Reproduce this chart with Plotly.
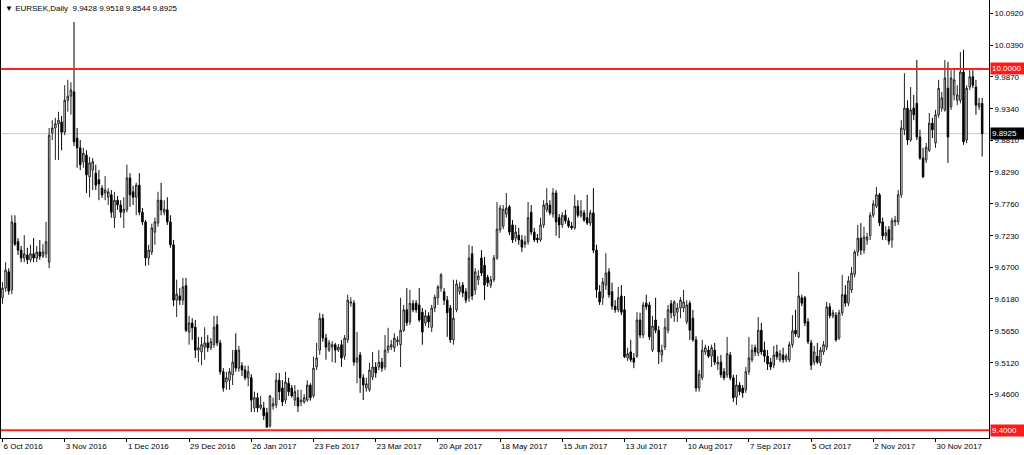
import plotly.graph_objects as go

# ---- data (EURSEK daily) ----
open_ = [
    9.620, 9.636, 9.663, 9.633, 9.744, 9.713, 9.699, 9.686, 9.691, 9.683,
    9.693, 9.686, 9.696, 9.689, 9.693, 9.679, 9.894, 9.902, 9.909, 9.912,
    9.895, 9.948, 9.955, 9.962, 9.885, 9.869, 9.846, 9.857, 9.821, 9.832,
    9.827, 9.816, 9.802, 9.794, 9.787, 9.791, 9.753, 9.782, 9.774, 9.762,
    9.766, 9.819, 9.796, 9.787, 9.807, 9.762, 9.746, 9.686, 9.696, 9.729,
    9.744, 9.782, 9.762, 9.766, 9.746, 9.708, 9.616, 9.623, 9.616, 9.640,
    9.563, 9.578, 9.571, 9.533, 9.530, 9.538, 9.545, 9.537, 9.542, 9.575,
    9.545, 9.497, 9.480, 9.483, 9.492, 9.533, 9.503, 9.507, 9.500, 9.487,
    9.487, 9.437, 9.454, 9.437, 9.437, 9.429, 9.407, 9.440, 9.442, 9.483,
    9.470, 9.450, 9.478, 9.470, 9.450, 9.454, 9.447, 9.447, 9.450, 9.475,
    9.457, 9.505, 9.533, 9.586, 9.553, 9.533, 9.538, 9.542, 9.533, 9.542,
    9.523, 9.550, 9.611, 9.611, 9.513, 9.525, 9.487, 9.470, 9.467, 9.488,
    9.505, 9.505, 9.513, 9.505, 9.533, 9.538, 9.537, 9.547, 9.542, 9.566,
    9.600, 9.580, 9.610, 9.611, 9.608, 9.596, 9.578, 9.590, 9.571, 9.603,
    9.620, 9.636, 9.630, 9.616, 9.603, 9.550, 9.600, 9.630, 9.641, 9.630,
    9.620, 9.693, 9.633, 9.650, 9.686, 9.674, 9.654, 9.641, 9.650, 9.686,
    9.733, 9.739, 9.759, 9.771, 9.741, 9.719, 9.724, 9.716, 9.709, 9.713,
    9.762, 9.729, 9.719, 9.716, 9.741, 9.766, 9.774, 9.759, 9.794, 9.753,
    9.741, 9.757, 9.748, 9.739, 9.736, 9.772, 9.756, 9.761, 9.753, 9.744,
    9.761, 9.699, 9.630, 9.620, 9.641, 9.663, 9.630, 9.606, 9.600, 9.623,
    9.600, 9.520, 9.530, 9.520, 9.523, 9.583, 9.558, 9.611, 9.608, 9.533,
    9.583, 9.566, 9.525, 9.538, 9.566, 9.610, 9.590, 9.596, 9.603, 9.603,
    9.580, 9.611, 9.586, 9.550, 9.470, 9.487, 9.530, 9.533, 9.523, 9.533,
    9.510, 9.513, 9.497, 9.492, 9.525, 9.487, 9.455, 9.475, 9.470, 9.467,
    9.497, 9.517, 9.537, 9.528, 9.566, 9.533, 9.523, 9.513, 9.508, 9.530,
    9.517, 9.525, 9.517, 9.517, 9.542, 9.566, 9.555, 9.620, 9.620, 9.580,
    9.545, 9.513, 9.523, 9.512, 9.530, 9.538, 9.605, 9.590, 9.591, 9.553,
    9.595, 9.625, 9.611, 9.633, 9.659, 9.696, 9.719, 9.699, 9.716, 9.723,
    9.757, 9.772, 9.791, 9.746, 9.723, 9.733, 9.716, 9.746, 9.746, 9.791,
    9.899, 9.935, 9.882, 9.935, 9.943, 9.887, 9.852, 9.849, 9.865, 9.910,
    9.877, 9.924, 9.935, 9.932, 9.968, 9.937, 9.957, 9.948, 9.948, 9.995,
    9.882, 9.970, 9.987, 9.970, 9.937, 9.9428,
]
high = [
    9.646, 9.679, 9.669, 9.757, 9.757, 9.719, 9.706, 9.724, 9.703, 9.708,
    9.719, 9.706, 9.716, 9.709, 9.746, 9.902, 9.915, 9.919, 9.929, 9.922,
    9.973, 9.982, 9.978, 10.078, 9.902, 9.882, 9.869, 9.865, 9.854, 9.852,
    9.841, 9.832, 9.807, 9.822, 9.802, 9.799, 9.796, 9.789, 9.782, 9.787,
    9.841, 9.827, 9.806, 9.811, 9.827, 9.769, 9.749, 9.708, 9.743, 9.753,
    9.796, 9.811, 9.782, 9.787, 9.757, 9.716, 9.650, 9.636, 9.653, 9.653,
    9.590, 9.586, 9.583, 9.555, 9.555, 9.571, 9.558, 9.553, 9.590, 9.590,
    9.550, 9.503, 9.497, 9.503, 9.533, 9.561, 9.540, 9.513, 9.507, 9.507,
    9.493, 9.464, 9.462, 9.457, 9.447, 9.437, 9.458, 9.454, 9.495, 9.495,
    9.483, 9.497, 9.487, 9.475, 9.475, 9.467, 9.467, 9.460, 9.483, 9.478,
    9.522, 9.545, 9.595, 9.593, 9.560, 9.550, 9.548, 9.545, 9.543, 9.550,
    9.558, 9.625, 9.621, 9.616, 9.563, 9.530, 9.493, 9.487, 9.512, 9.530,
    9.513, 9.533, 9.520, 9.558, 9.570, 9.550, 9.561, 9.556, 9.620, 9.608,
    9.636, 9.633, 9.616, 9.616, 9.636, 9.603, 9.600, 9.596, 9.608, 9.625,
    9.641, 9.661, 9.636, 9.623, 9.608, 9.650, 9.650, 9.646, 9.646, 9.636,
    9.708, 9.706, 9.669, 9.666, 9.699, 9.688, 9.658, 9.656, 9.691, 9.779,
    9.774, 9.774, 9.794, 9.774, 9.749, 9.741, 9.736, 9.724, 9.723, 9.779,
    9.774, 9.736, 9.726, 9.753, 9.782, 9.802, 9.782, 9.802, 9.799, 9.759,
    9.762, 9.766, 9.753, 9.746, 9.791, 9.782, 9.782, 9.766, 9.791, 9.766,
    9.802, 9.708, 9.641, 9.653, 9.694, 9.669, 9.645, 9.616, 9.638, 9.641,
    9.623, 9.537, 9.550, 9.528, 9.596, 9.595, 9.613, 9.625, 9.613, 9.590,
    9.620, 9.573, 9.542, 9.586, 9.608, 9.616, 9.616, 9.611, 9.621, 9.633,
    9.616, 9.615, 9.600, 9.556, 9.500, 9.550, 9.542, 9.540, 9.542, 9.545,
    9.523, 9.525, 9.503, 9.555, 9.530, 9.492, 9.492, 9.480, 9.475, 9.505,
    9.555, 9.542, 9.542, 9.588, 9.578, 9.547, 9.533, 9.520, 9.540, 9.542,
    9.533, 9.537, 9.527, 9.547, 9.591, 9.600, 9.663, 9.625, 9.623, 9.586,
    9.550, 9.540, 9.545, 9.538, 9.548, 9.613, 9.611, 9.600, 9.596, 9.600,
    9.658, 9.641, 9.656, 9.671, 9.699, 9.741, 9.744, 9.738, 9.728, 9.762,
    9.782, 9.804, 9.794, 9.753, 9.739, 9.739, 9.753, 9.756, 9.799, 9.915,
    9.993, 9.948, 9.970, 9.957, 10.015, 9.899, 9.869, 9.877, 9.927, 9.919,
    9.932, 9.982, 9.962, 10.015, 10.012, 9.998, 10.002, 9.973, 10.028, 10.032,
    9.973, 9.998, 9.998, 9.982, 9.952, 9.9518,
]
low = [
    9.610, 9.630, 9.625, 9.626, 9.706, 9.691, 9.679, 9.679, 9.676, 9.679,
    9.679, 9.679, 9.683, 9.686, 9.686, 9.669, 9.882, 9.849, 9.849, 9.865,
    9.890, 9.929, 9.924, 9.872, 9.836, 9.832, 9.836, 9.794, 9.787, 9.799,
    9.799, 9.782, 9.786, 9.782, 9.774, 9.753, 9.736, 9.766, 9.753, 9.736,
    9.762, 9.771, 9.774, 9.757, 9.757, 9.741, 9.673, 9.674, 9.691, 9.708,
    9.738, 9.757, 9.757, 9.741, 9.703, 9.606, 9.588, 9.608, 9.608, 9.563,
    9.542, 9.550, 9.520, 9.513, 9.508, 9.517, 9.530, 9.533, 9.537, 9.540,
    9.492, 9.464, 9.467, 9.467, 9.475, 9.497, 9.497, 9.490, 9.483, 9.473,
    9.430, 9.430, 9.430, 9.434, 9.417, 9.405, 9.404, 9.434, 9.437, 9.450,
    9.440, 9.444, 9.457, 9.454, 9.440, 9.430, 9.440, 9.444, 9.447, 9.449,
    9.454, 9.500, 9.525, 9.547, 9.517, 9.530, 9.513, 9.512, 9.530, 9.505,
    9.517, 9.545, 9.605, 9.507, 9.478, 9.462, 9.450, 9.464, 9.464, 9.483,
    9.487, 9.500, 9.497, 9.500, 9.528, 9.533, 9.530, 9.540, 9.505, 9.563,
    9.573, 9.575, 9.596, 9.595, 9.580, 9.542, 9.573, 9.570, 9.563, 9.596,
    9.608, 9.630, 9.608, 9.555, 9.545, 9.542, 9.596, 9.625, 9.621, 9.611,
    9.613, 9.616, 9.625, 9.641, 9.656, 9.616, 9.638, 9.636, 9.646, 9.683,
    9.728, 9.734, 9.753, 9.724, 9.711, 9.713, 9.708, 9.696, 9.703, 9.708,
    9.724, 9.713, 9.711, 9.713, 9.736, 9.762, 9.757, 9.753, 9.723, 9.719,
    9.736, 9.743, 9.736, 9.733, 9.733, 9.753, 9.753, 9.746, 9.741, 9.739,
    9.694, 9.620, 9.608, 9.608, 9.633, 9.620, 9.600, 9.595, 9.596, 9.591,
    9.520, 9.515, 9.513, 9.503, 9.520, 9.553, 9.553, 9.600, 9.550, 9.530,
    9.561, 9.510, 9.513, 9.533, 9.561, 9.586, 9.580, 9.580, 9.586, 9.596,
    9.576, 9.550, 9.547, 9.464, 9.464, 9.483, 9.525, 9.520, 9.505, 9.508,
    9.500, 9.487, 9.483, 9.487, 9.483, 9.447, 9.442, 9.458, 9.454, 9.462,
    9.492, 9.513, 9.523, 9.523, 9.525, 9.513, 9.500, 9.500, 9.503, 9.517,
    9.513, 9.512, 9.513, 9.513, 9.537, 9.555, 9.553, 9.606, 9.573, 9.543,
    9.500, 9.508, 9.510, 9.507, 9.525, 9.533, 9.586, 9.586, 9.547, 9.550,
    9.590, 9.605, 9.606, 9.628, 9.654, 9.689, 9.691, 9.693, 9.708, 9.716,
    9.753, 9.769, 9.739, 9.716, 9.716, 9.708, 9.703, 9.739, 9.741, 9.786,
    9.890, 9.874, 9.879, 9.915, 9.882, 9.849, 9.819, 9.844, 9.862, 9.885,
    9.869, 9.919, 9.929, 9.929, 9.844, 9.932, 9.948, 9.940, 9.943, 9.874,
    9.877, 9.965, 9.968, 9.924, 9.932, 9.8544,
]
close = [
    9.636, 9.666, 9.631, 9.746, 9.709, 9.699, 9.686, 9.693, 9.683, 9.693,
    9.686, 9.696, 9.689, 9.696, 9.713, 9.890, 9.902, 9.909, 9.915, 9.895,
    9.948, 9.955, 9.965, 9.879, 9.869, 9.841, 9.860, 9.824, 9.844, 9.846,
    9.807, 9.809, 9.791, 9.799, 9.796, 9.762, 9.782, 9.774, 9.762, 9.767,
    9.819, 9.791, 9.787, 9.807, 9.762, 9.746, 9.686, 9.699, 9.736, 9.746,
    9.782, 9.766, 9.767, 9.746, 9.708, 9.616, 9.626, 9.616, 9.638, 9.566,
    9.578, 9.570, 9.533, 9.537, 9.542, 9.545, 9.537, 9.547, 9.571, 9.545,
    9.497, 9.470, 9.487, 9.497, 9.513, 9.503, 9.533, 9.500, 9.487, 9.497,
    9.450, 9.454, 9.437, 9.442, 9.424, 9.405, 9.457, 9.444, 9.483, 9.464,
    9.447, 9.480, 9.464, 9.457, 9.464, 9.440, 9.450, 9.454, 9.475, 9.454,
    9.503, 9.520, 9.586, 9.553, 9.538, 9.545, 9.542, 9.533, 9.538, 9.520,
    9.553, 9.616, 9.613, 9.513, 9.520, 9.487, 9.475, 9.477, 9.500, 9.505,
    9.495, 9.513, 9.503, 9.533, 9.540, 9.542, 9.553, 9.550, 9.566, 9.600,
    9.578, 9.611, 9.600, 9.600, 9.583, 9.563, 9.590, 9.580, 9.603, 9.621,
    9.638, 9.658, 9.616, 9.595, 9.550, 9.586, 9.643, 9.638, 9.628, 9.616,
    9.686, 9.623, 9.663, 9.656, 9.661, 9.641, 9.645, 9.650, 9.686, 9.734,
    9.769, 9.767, 9.769, 9.729, 9.716, 9.729, 9.716, 9.704, 9.713, 9.753,
    9.729, 9.716, 9.716, 9.741, 9.774, 9.777, 9.761, 9.794, 9.746, 9.741,
    9.757, 9.748, 9.739, 9.736, 9.772, 9.757, 9.764, 9.749, 9.744, 9.761,
    9.699, 9.633, 9.613, 9.646, 9.661, 9.625, 9.606, 9.600, 9.620, 9.596,
    9.522, 9.527, 9.517, 9.513, 9.583, 9.558, 9.608, 9.605, 9.555, 9.573,
    9.566, 9.530, 9.533, 9.571, 9.600, 9.595, 9.613, 9.603, 9.616, 9.613,
    9.608, 9.566, 9.550, 9.470, 9.493, 9.533, 9.537, 9.523, 9.537, 9.513,
    9.513, 9.492, 9.487, 9.527, 9.487, 9.454, 9.475, 9.464, 9.462, 9.497,
    9.520, 9.533, 9.530, 9.566, 9.530, 9.523, 9.510, 9.505, 9.525, 9.522,
    9.527, 9.517, 9.523, 9.542, 9.565, 9.560, 9.623, 9.611, 9.578, 9.547,
    9.508, 9.530, 9.513, 9.533, 9.542, 9.605, 9.590, 9.595, 9.550, 9.595,
    9.625, 9.611, 9.648, 9.661, 9.696, 9.719, 9.699, 9.721, 9.721, 9.757,
    9.776, 9.791, 9.744, 9.723, 9.728, 9.714, 9.748, 9.749, 9.791, 9.902,
    9.935, 9.882, 9.932, 9.924, 9.887, 9.852, 9.821, 9.870, 9.910, 9.899,
    9.924, 9.968, 9.952, 9.985, 9.887, 9.985, 9.982, 9.957, 9.995, 9.879,
    9.968, 9.987, 9.973, 9.940, 9.943, 9.8925,
]
bar_index = list(range(len(close)))

tick_bars = [0, 20, 40, 60, 80, 100, 120, 140, 160, 180, 200, 220, 240, 260, 280, 300]
tick_labels = ["6 Oct 2016", "3 Nov 2016", "1 Dec 2016", "29 Dec 2016", "26 Jan 2017",
               "23 Feb 2017", "23 Mar 2017", "20 Apr 2017", "18 May 2017", "15 Jun 2017",
               "13 Jul 2017", "10 Aug 2017", "7 Sep 2017", "5 Oct 2017", "2 Nov 2017",
               "30 Nov 2017"]
# 9.4070 sits fully under the 9.4000 level tag in the reference, so it is not listed
price_ticks = [10.0920, 10.0390, 9.9870, 9.9340, 9.8810, 9.8290, 9.7760, 9.7230,
               9.6700, 9.6180, 9.5650, 9.5120, 9.4600]
level_lines = [10.0000, 9.4000]
last_price = close[-1]
symbol = "EURSEK,Daily"

FONT = "Liberation Sans, Arial, sans-serif"
FS = 8

fig = go.Figure(go.Candlestick(
    x=bar_index, open=open_, high=high, low=low, close=close,
    increasing=dict(line=dict(color="#222222", width=1), fillcolor="#ffffff"),
    decreasing=dict(line=dict(color="#000000", width=1), fillcolor="#000000"),
    whiskerwidth=0, showlegend=False, hoverinfo="skip",
))

fig.update_layout(
    width=1024, height=455,
    margin=dict(l=1, r=35, t=0, b=17),
    paper_bgcolor="white", plot_bgcolor="white",
    showlegend=False,
    font=dict(family=FONT, size=FS, color="black"),
)
fig.update_xaxes(
    range=[-0.48, 317.2], rangeslider_visible=False, showgrid=False, zeroline=False,
    tickmode="array", tickvals=tick_bars, ticktext=tick_labels,
    ticks="outside", ticklen=3, tickcolor="black", ticklabelposition="outside right",
    showline=True, linecolor="black", linewidth=1,
    tickfont=dict(family=FONT, size=FS, color="black"),
)
fig.update_yaxes(
    side="right", range=[9.3870, 10.1146], showgrid=False, zeroline=False,
    tickmode="array", tickvals=price_ticks, ticktext=[f"{v:.4f}" for v in price_ticks],
    ticks="outside", ticklen=3, tickcolor="black",
    showline=True, mirror=True, linecolor="black", linewidth=1,
    tickfont=dict(family=FONT, size=FS, color="black"),
)

# bid line
fig.add_shape(type="line", xref="paper", x0=0, x1=1, yref="y", y0=last_price, y1=last_price,
              line=dict(color="#c8c8c8", width=1), layer="below")
# horizontal levels
for lvl in level_lines:
    fig.add_shape(type="line", xref="paper", x0=0, x1=1, yref="y", y0=lvl, y1=lvl,
                  line=dict(color="#ff2020", width=2), layer="above")
    fig.add_annotation(xref="paper", x=1, xanchor="left", xshift=1, yref="y", y=lvl,
                       yanchor="middle", text=f"{lvl:.4f}", showarrow=False,
                       bgcolor="#ff1a1a", font=dict(color="white", size=FS, family=FONT),
                       width=32, align="left", borderpad=1)
fig.add_annotation(xref="paper", x=1, xanchor="left", xshift=1, yref="y", y=last_price,
                   yanchor="middle", text=f"{last_price:.4f}", showarrow=False,
                   bgcolor="#000000", font=dict(color="white", size=FS, family=FONT),
                   width=32, align="left", borderpad=1)

# header
fig.add_annotation(
    xref="paper", x=0, xanchor="left", xshift=2, yref="paper", y=1, yanchor="top", yshift=-2,
    text=f"▼ {symbol}&nbsp; {open_[-1]:.4f} {high[-1]:.4f} {low[-1]:.4f} {close[-1]:.4f}",
    showarrow=False, font=dict(family=FONT, size=FS, color="black"),
)

fig.write_html(
    "out.html",
    config={"displayModeBar": False},
    post_script="document.body.style.margin='0px';document.body.style.overflow='hidden';",
)
